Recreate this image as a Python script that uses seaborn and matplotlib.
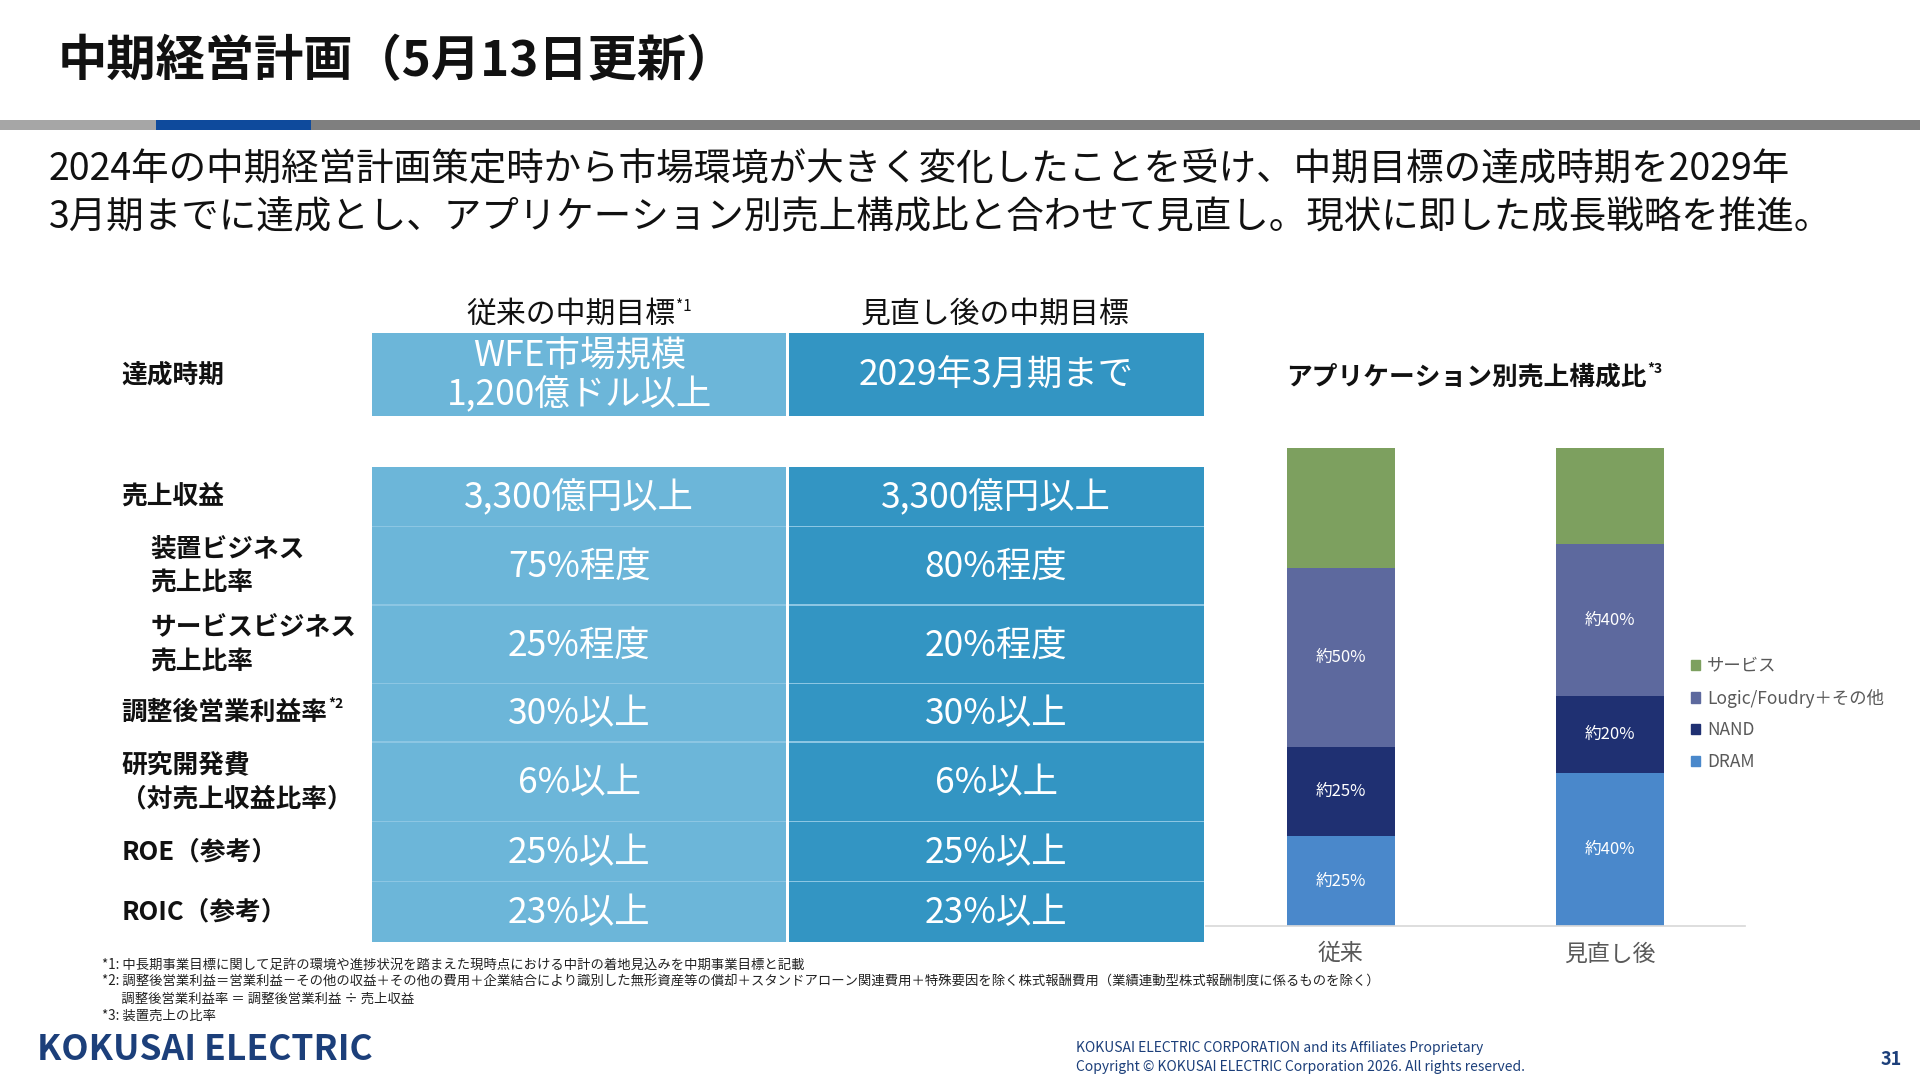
import matplotlib
matplotlib.use("Agg")
import matplotlib.pyplot as plt
import seaborn as sns
import pandas as pd
from matplotlib.patches import Rectangle, Patch

sns.set_theme(style="white")
plt.rcParams['font.family'] = ['Noto Sans CJK JP', 'DejaVu Sans']

# ---- data ----
categories = ["従来", "見直し後"]
segments = ["DRAM", "NAND", "Logic/Foudry＋その他", "サービス"]
dram = [18.75, 32]
nand = [18.75, 16]
logic = [37.5, 32]
service = [25, 20]
seg_labels = {"DRAM": ["約25%", "約40%"], "NAND": ["約25%", "約20%"],
              "Logic/Foudry＋その他": ["約50%", "約40%"], "サービス": ["", ""]}
seg_colors = {"DRAM": "#4A88CB", "NAND": "#1F3072", "Logic/Foudry＋その他": "#5D699E", "サービス": "#7DA05F"}

row_labels = ["達成時期", "売上収益", "装置ビジネス\n売上比率", "サービスビジネス\n売上比率",
              "調整後営業利益率", "研究開発費\n（対売上収益比率）", "ROE（参考）", "ROIC（参考）"]
old_targets = ["WFE市場規模\n1,200億ドル以上", "3,300億円以上", "75%程度", "25%程度", "30%以上", "6%以上", "25%以上", "23%以上"]
new_targets = ["2029年3月期まで", "3,300億円以上", "80%程度", "20%程度", "30%以上", "6%以上", "25%以上", "23%以上"]
col_headers = ["従来の中期目標", "見直し後の中期目標"]

W, H = 1568, 882
fig = plt.figure(figsize=(19.2, 10.8), dpi=100)
renderer = fig.canvas.get_renderer()
def fx(x): return x / W
def fy(y): return 1 - y / H
def rect(x0, y0, x1, y1, c, **kw):
    fig.patches.append(Rectangle((fx(x0), fy(y1)), fx(x1) - fx(x0), fy(y0) - fy(y1),
                                 transform=fig.transFigure, facecolor=c, edgecolor='none', **kw))
def txt(x, y, s, **kw):
    return fig.text(fx(x), fy(y), s, **kw)
def sup(t, s, size, dy=-7, **kw):
    bb = t.get_window_extent(renderer)
    xr = bb.x1 / fig.bbox.width * W
    yc = H - (bb.y0 + bb.y1) / 2 / fig.bbox.height * H
    txt(xr + 1, yc + dy, s, fontsize=size, va='center', color='#111111', **kw)

# title and header bar
txt(47, 50, "中期経営計画（5月13日更新）", fontsize=35.5, fontweight='bold', va='center', color='#111111')
rect(0, 98, 127, 106, '#A6A6A6')
rect(127, 98, 254, 106, '#0E4A9C')
rect(254, 98, W, 106, '#7F7F7F')
txt(40, 139, "2024年の中期経営計画策定時から市場環境が大きく変化したことを受け、中期目標の達成時期を2029年",
    fontsize=27, va='center', color='#111111')
txt(40, 178, "3月期までに達成とし、アプリケーション別売上構成比と合わせて見直し。現状に即した成長戦略を推進。",
    fontsize=27, va='center', color='#111111')

# table
c1, c2 = '#6CB6D9', '#3395C3'
xs = [(304, 642), (644, 983)]
h1 = txt(466, 257, col_headers[0], fontsize=21.5, ha='center', va='center', color='#111111')
sup(h1, "*1", 11)
txt(813, 257, col_headers[1], fontsize=21.5, ha='center', va='center', color='#111111')
rows = [(272, 340), (381, 430), (430, 494), (494, 558), (558, 606), (606, 671), (671, 720), (720, 769)]
for i, (y0, y1) in enumerate(rows):
    for j, (x0, x1) in enumerate(xs):
        rect(x0, y0, x1, y1, [c1, c2][j])
        val = [old_targets, new_targets][j][i]
        txt((x0 + x1) / 2, (y0 + y1) / 2 + 1, val, fontsize=25.5, ha='center', va='center',
            color='white', linespacing=1.1)
    if i > 1:
        rect(304, y0 - 0.5, 983, y0 + 0.5, '#8CC6E3')
    lx = 123 if i in (2, 3) else 99
    t = txt(lx, (y0 + y1) / 2, row_labels[i], fontsize=18.5, fontweight='bold', va='center',
            color='#111111', linespacing=1.3)
    if i == 4:
        sup(t, "*2", 10, fontweight='bold')
rect(642, 272, 644, 340, 'white')
rect(642, 381, 644, 769, 'white')

# stacked bar chart
ax = fig.add_axes([fx(985), fy(756), fx(1425) - fx(985), fy(366) - fy(756)])
df = pd.DataFrame({"cat": categories, "DRAM": dram, "NAND": nand,
                   "Logic/Foudry＋その他": logic, "サービス": service})
cum = df[segments].cumsum(axis=1)
for seg in reversed(segments):
    sns.barplot(x=df["cat"], y=cum[seg], color=seg_colors[seg], width=0.4,
                saturation=1, ax=ax, edgecolor='none')
for seg in segments:
    for i in range(2):
        lab = seg_labels[seg][i]
        if lab:
            mid = cum[seg][i] - df[seg][i] / 2
            ax.text(i, mid, lab, ha='center', va='center', color='white', fontsize=12)
ax.set_xlim(-0.5, 1.5)
ax.set_ylim(0, 100)
ax.set_xlabel(""); ax.set_ylabel("")
ax.set_yticks([])
ax.tick_params(axis='x', labelsize=16.5, colors='#595959', length=0, pad=12)
for s in ['top', 'left', 'right']:
    ax.spines[s].set_visible(False)
ax.spines['bottom'].set_color('#D9D9D9')
ax.patch.set_alpha(0)
t = txt(1050, 308, "アプリケーション別売上構成比", fontsize=18.5, fontweight='bold', va='center', color='#111111')
sup(t, "*3", 10, fontweight='bold')
handles = [Patch(color=seg_colors[s], label=s) for s in reversed(segments)]
fig.legend(handles=handles, loc='upper left', bbox_to_anchor=(fx(1368), fy(524)),
           frameon=False, fontsize=12.5, handlelength=0.55, handleheight=0.55,
           handletextpad=0.4, labelspacing=0.78, labelcolor='#595959')

# footnotes
notes = ["*1: 中長期事業目標に関して足許の環境や進捗状況を踏まえた現時点における中計の着地見込みを中期事業目標と記載",
         "*2: 調整後営業利益＝営業利益－その他の収益＋その他の費用＋企業結合により識別した無形資産等の償却＋スタンドアローン関連費用＋特殊要因を除く株式報酬費用（業績連動型株式報酬制度に係るものを除く）",
         "　  調整後営業利益率 ＝ 調整後営業利益 ÷ 売上収益",
         "*3: 装置売上の比率"]
for k, n in enumerate(notes):
    txt(83, 788 + k * 13.8, n, fontsize=9.6, va='center', color='#222222')

txt(30, 857, "KOKUSAI ELECTRIC", fontsize=25.5, fontweight='bold', va='center', color='#1C3F7A')
txt(879, 856, "KOKUSAI ELECTRIC CORPORATION and its Affiliates Proprietary", fontsize=10, va='center', color='#1C3F7A')
txt(879, 871, "Copyright © KOKUSAI ELECTRIC Corporation 2026. All rights reserved.", fontsize=10, va='center', color='#1C3F7A')
txt(1553, 865, "31", fontsize=13, fontweight='bold', ha='right', va='center', color='#1C3F7A')

fig.savefig("out.png", dpi=100, facecolor='white')
